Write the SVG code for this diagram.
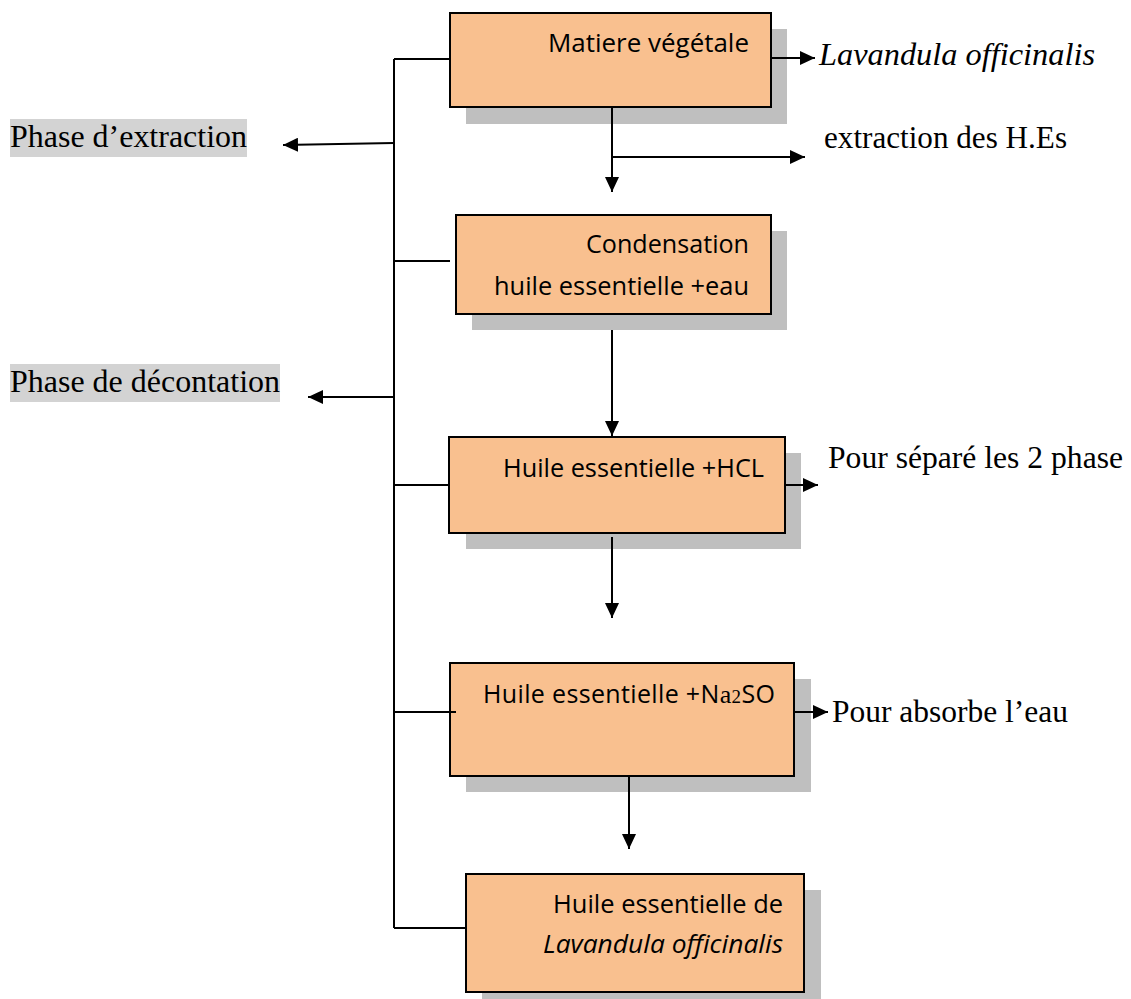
<svg xmlns="http://www.w3.org/2000/svg" width="1131" height="999" viewBox="0 0 1131 999">
<style>
.shadow{fill:#bfbfbf}
.box{fill:#f9c08f;stroke:#000;stroke-width:2}
.bt{font-family:"Open Sans","Liberation Sans",sans-serif;font-size:25px;fill:#000}
.st{font-family:"Liberation Serif","Times New Roman",serif;font-size:31px;fill:#000}
.hl{fill:#d3d3d3}
.ln{stroke:#000;stroke-width:2;fill:none}
.ar{stroke:#000;stroke-width:2;fill:none;marker-end:url(#ah)}
</style>
<defs>
<marker id="ah" markerUnits="userSpaceOnUse" markerWidth="16" markerHeight="14" refX="15" refY="7" orient="auto">
<path d="M0,0 L15,7 L0,14 z" fill="#000"/>
</marker>
</defs>
<rect width="1131" height="999" fill="#fff"/>

<g id="label-extraction">
<rect class="hl" x="10" y="119" width="237" height="38"/>
<text class="st" x="10" y="147" textLength="237" lengthAdjust="spacingAndGlyphs">Phase d’extraction</text>
</g>
<g id="label-decantation">
<rect class="hl" x="10" y="364" width="270" height="38"/>
<text class="st" x="10" y="392" textLength="270" lengthAdjust="spacingAndGlyphs">Phase de décontation</text>
</g>

<g id="node-matiere">
<rect class="shadow" x="466" y="29" width="321" height="95"/>
<rect class="box" x="450" y="13" width="321" height="94"/>
<text class="bt" x="548" y="52" textLength="201" lengthAdjust="spacingAndGlyphs">Matiere végétale</text>
</g>
<g id="node-condensation">
<rect class="shadow" x="472" y="231" width="315" height="99"/>
<rect class="box" x="456" y="215" width="315" height="99"/>
<text class="bt" x="586" y="253" textLength="163" lengthAdjust="spacingAndGlyphs">Condensation</text>
<text class="bt" x="494" y="295" textLength="255" lengthAdjust="spacingAndGlyphs">huile essentielle +eau</text>
</g>
<g id="node-hcl">
<rect class="shadow" x="466" y="453" width="335" height="96"/>
<rect class="box" x="449" y="437" width="336" height="96"/>
<text class="bt" x="503" y="477" textLength="261" lengthAdjust="spacingAndGlyphs">Huile essentielle +HCL</text>
</g>
<g id="node-na2so">
<rect class="shadow" x="466" y="679" width="345" height="113"/>
<rect class="box" x="450" y="663" width="344" height="113"/>
<text class="bt" x="483" y="703" letter-spacing="0.35">Huile essentielle +N<tspan font-family="'Liberation Serif',serif" font-size="26">a</tspan><tspan font-family="'Liberation Serif',serif" font-size="19">2</tspan>SO</text>
</g>
<g id="node-final">
<rect class="shadow" x="482" y="890" width="339" height="109"/>
<rect class="box" x="466" y="874" width="338" height="118"/>
<text class="bt" x="553" y="913" textLength="230" lengthAdjust="spacingAndGlyphs">Huile essentielle de</text>
<text class="bt" x="543" y="953" font-style="italic" textLength="240" lengthAdjust="spacingAndGlyphs">Lavandula officinalis</text>
</g>

<g id="side-labels">
<text class="st" x="819" y="65" font-style="italic" textLength="276" lengthAdjust="spacingAndGlyphs">Lavandula officinalis</text>
<text class="st" x="824" y="148" textLength="243" lengthAdjust="spacingAndGlyphs">extraction des H.Es</text>
<text class="st" x="828" y="468" textLength="295" lengthAdjust="spacingAndGlyphs">Pour séparé les 2 phase</text>
<text class="st" x="832" y="722" textLength="236" lengthAdjust="spacingAndGlyphs">Pour absorbe l’eau</text>
</g>

<g id="connectors">
<path class="ln" d="M394,59 V928"/>
<path class="ln" d="M394,59 H450"/>
<path class="ln" d="M394,261 H450"/>
<path class="ln" d="M394,485 H449"/>
<path class="ln" d="M394,712 H456"/>
<path class="ln" d="M394,928 H466"/>
<path class="ar" d="M394,143 L283,145"/>
<path class="ar" d="M394,397 H308"/>
<path class="ar" d="M771,58 H815"/>
<path class="ar" d="M612,107 V192"/>
<path class="ar" d="M612,157 H805"/>
<path class="ar" d="M612,330 V436"/>
<path class="ar" d="M785,485 H818"/>
<path class="ar" d="M612,537 V618"/>
<path class="ar" d="M794,712 H828"/>
<path class="ar" d="M629,776 V849"/>
</g>
</svg>
